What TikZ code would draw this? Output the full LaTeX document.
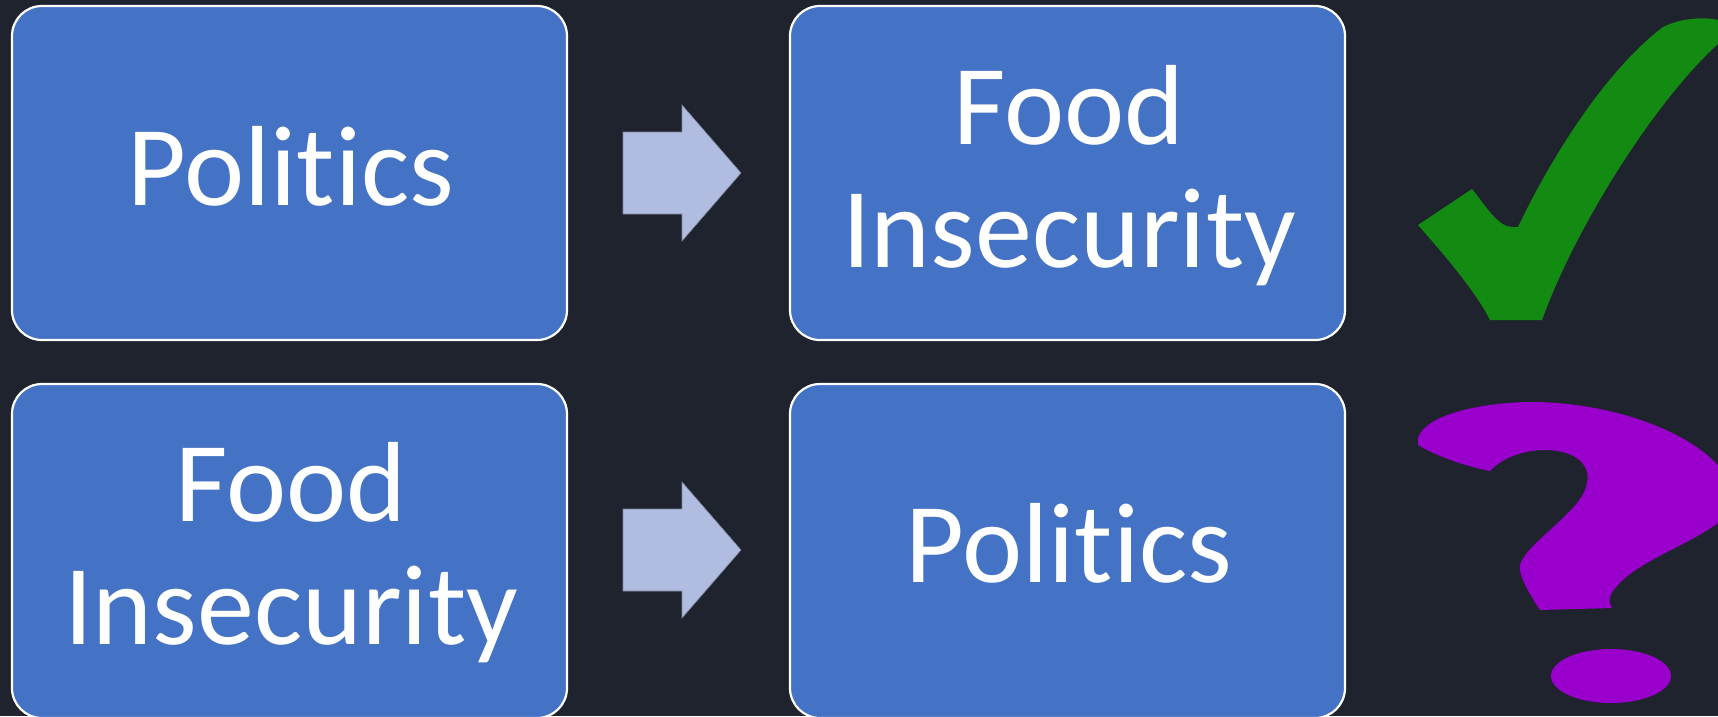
\documentclass[tikz,border=0pt]{standalone}
\usepackage{fontspec}
\setmainfont{Carlito}[RawFeature={-liga;-clig}]
\definecolor{bg}{HTML}{1F232D}
\definecolor{boxblue}{HTML}{4472C4}
\definecolor{arrowfill}{HTML}{B0BDE0}
\definecolor{checkgreen}{HTML}{138A12}
\definecolor{qpurple}{HTML}{9900CC}
\tikzset{
  box/.style={draw=white, line width=2.2pt, fill=boxblue, rounded corners=30pt},
  txt/.style={text=white, font=\fontsize{114}{123}\selectfont, inner sep=0pt, anchor=base},
  blockarrow/.style={fill=arrowfill, draw=arrowfill!70!black, line width=0.6pt},
}
\begin{document}
\begin{tikzpicture}[x=1pt,y=-1pt]
\useasboundingbox (0,0) rectangle (1718,716);
\clip (0,0) rectangle (1718,716);
\fill[bg] (0,0) rectangle (1718,716);
% boxes
\draw[box] (12,6) rectangle (567,340);
\draw[box] (790,6) rectangle (1345,340);
\draw[box] (12,384) rectangle (567,718);
\draw[box] (790,384) rectangle (1345,718);
% texts
\node[txt] (t1) at (291,205) {Politics};
\node[txt] (t2a) at (1069,144) {Food};
\node[txt] (t2b) at (1069,267) {Insecurity};
\node[txt] (t3a) at (291,521) {Food};
\node[txt] (t3b) at (291,644) {Insecurity};
\node[txt] (t4) at (1069,582) {Politics};
% block arrows
\draw[blockarrow] (623,132) -- (682,132) -- (682,105) -- (741,173) -- (682,241) -- (682,214) -- (623,214) -- cycle;
\draw[blockarrow] (623,509) -- (682,509) -- (682,482) -- (741,550) -- (682,618) -- (682,591) -- (623,591) -- cycle;
% check mark
\fill[checkgreen] (1418,225) -- (1472,189)
  .. controls (1485,205) and (1498,227) .. (1512,227) -- (1518,227)
  .. controls (1545,170) and (1600,75) .. (1663,27)
  .. controls (1685,16) and (1715,16) .. (1730,24) -- (1730,34)
  .. controls (1670,80) and (1580,215) .. (1542,320)
  -- (1490,320)
  .. controls (1475,290) and (1440,250) .. (1418,225) -- cycle;
% question mark
\fill[qpurple] (1418,438) .. controls (1425,415) and (1480,402) .. (1535,402)
  .. controls (1610,403) and (1690,430) .. (1722,470)
  -- (1722,520)
  .. controls (1690,545) and (1640,560) .. (1618,585)
  .. controls (1608,595) and (1608,603) .. (1612,608)
  -- (1540,610)
  .. controls (1530,595) and (1518,575) .. (1520,565)
  .. controls (1525,545) and (1575,515) .. (1585,490)
  .. controls (1595,465) and (1575,450) .. (1545,450)
  .. controls (1520,450) and (1500,460) .. (1490,471)
  .. controls (1460,465) and (1435,455) .. (1418,445) -- cycle;
\fill[qpurple] (1611,676) ellipse [x radius=60, y radius=27];
\end{tikzpicture}
\end{document}
